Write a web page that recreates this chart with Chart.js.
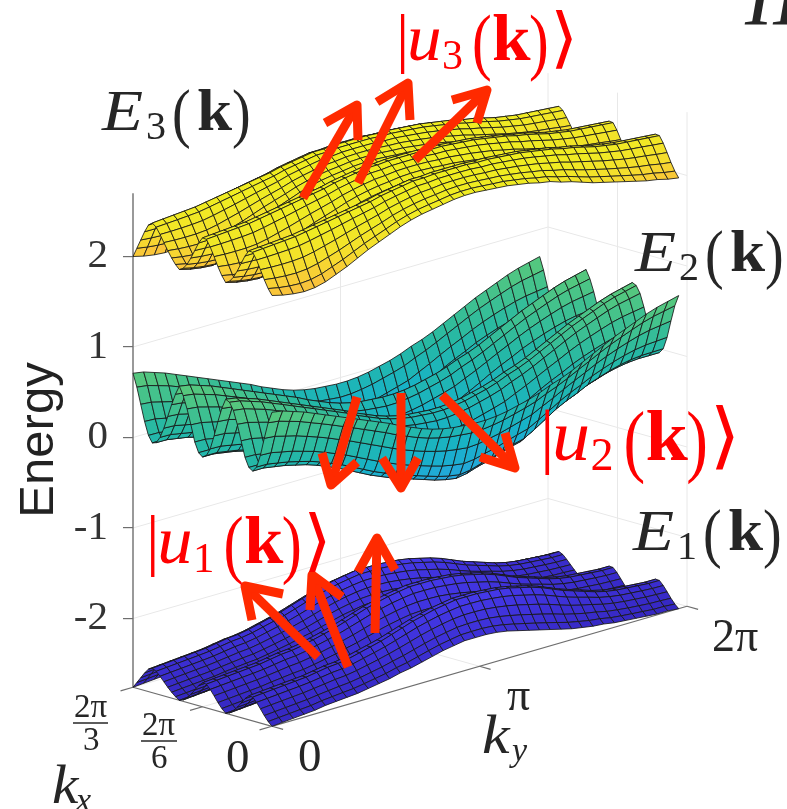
<!DOCTYPE html>
<html><head><meta charset="utf-8">
<style>html,body{margin:0;padding:0;background:#fff}canvas{display:block}</style>
<script src="https://cdn.jsdelivr.net/npm/chart.js@4"></script>
</head><body><canvas id="c" width="787" height="809"></canvas>
<script>
// ---- values (Energy at each ky grid column) ----
const energyTicks=[-2,-1,0,1,2];
const kxTickFractions=[0,1/2,1];   // of 2pi/3
const kyTickFractions=[0,1/2,1];   // of 2pi
const kxTickLabels=['0','2π/6','2π/3'];
const kyTickLabels=['0','π','2π'];
const e1Ridge=[-2.49,-2.48,-2.47,-2.46,-2.45,-2.44,-2.42,-2.40,-2.39,-2.37,-2.34,-2.31,-2.28,-2.24,-2.20,-2.16,-2.13,-2.10,-2.08,-2.06,-2.06,-2.06,-2.07,-2.08,-2.10,-2.13,-2.16,-2.20,-2.25,-2.30,-2.34,-2.38,-2.42,-2.45,-2.47,-2.48,-2.49,-2.50,-2.50];
const e1Valley=[-2.76,-2.75,-2.74,-2.73,-2.72,-2.70,-2.69,-2.68,-2.67,-2.65,-2.63,-2.61,-2.58,-2.56,-2.53,-2.50,-2.47,-2.45,-2.43,-2.43,-2.43,-2.44,-2.46,-2.49,-2.52,-2.55,-2.58,-2.61,-2.64,-2.66,-2.68,-2.69,-2.71,-2.72,-2.73,-2.74,-2.75,-2.75,-2.76];
const e2Ridge=[.71,.69,.65,.61,.56,.51,.46,.41,.36,.31,.26,.21,.15,.10,.05,.01,-.02,-.04,-.05,-.06,-.06,-.05,-.03,0,.03,.07,.12,.16,.21,.27,.33,.39,.45,.50,.55,.60,.64,.67,.70];
const e2Valley=[0,0,-.02,-.04,-.07,-.10,-.14,-.19,-.24,-.30,-.36,-.42,-.47,-.52,-.56,-.60,-.64,-.68,-.71,-.73,-.71,-.67,-.64,-.60,-.56,-.53,-.46,-.38,-.30,-.24,-.19,-.13,-.09,-.05,-.02,0,.01,.01,.01];
const e3Ridge=[2.43,2.44,2.45,2.46,2.47,2.49,2.51,2.53,2.55,2.57,2.59,2.61,2.64,2.66,2.68,2.70,2.70,2.71,2.71,2.71,2.71,2.70,2.70,2.69,2.68,2.67,2.65,2.63,2.61,2.58,2.56,2.53,2.50,2.48,2.46,2.45,2.44,2.43,2.42];
const e3Valley=[2.0,1.97,1.95,1.94,1.95,1.98,2.03,2.08,2.14,2.20,2.25,2.30,2.35,2.39,2.42,2.44,2.46,2.48,2.49,2.49,2.48,2.47,2.46,2.44,2.42,2.39,2.37,2.33,2.30,2.26,2.22,2.19,2.16,2.13,2.10,2.07,2.05,2.02,2.0];
// share of the ridge-valley height along kx, one entry per kx grid row
const ripple13=[0,.15,.35,.58,.8,.97,.98,.82,.6,.38,.19,.06,0,.15,.35,.58,.8,.97,.98,.82,.6,.38,.19,.06,0,.1,.24,.4,.58,.76,.92,1,.92,.72,.48,.24,0];
const ripple2=[1,.82,.56,.28,.08,0,.04,.18,.42,.66,.86,.97,1,.84,.62,.38,.16,.04,0,.05,.2,.45,.68,.87,1,.86,.68,.48,.28,.12,.02,0,.1,.3,.55,.8,1];
const colorStops=[[-2.8,[52,38,190]],[-2.1,[68,56,232]],[-.75,[39,165,224]],[-.3,[23,178,200]],[.1,[37,184,165]],[.7,[90,201,122]],[2.0,[250,196,58]],[2.2,[245,222,45]],[2.45,[240,235,35]],[2.7,[240,238,30]]];
// arrows: shaft [x0,E0,x1,E1] then two barbs [x,E] on the view axis
const arrowShafts=[[303,2.646,357,3.674],[358,2.812,408,3.917],[415,3.066,487,3.840],[357,.448,331,-.525],[401,.492,401,-.558],[442,.470,515,-.337],[318,-2.425,245,-1.641],[348,-2.536,312,-1.519],[375,-2.160,377,-1.110]];
const arrowBarbs=[[325,3.475,358,3.287],[377,3.707,410,3.508],[452,3.729,477,3.475],[322,-.171,357,-.271],[382,-.227,418,-.227],[480,-.215,505,.050],[252,-2.017,283,-1.729],[310,-1.906,342,-1.762],[358,-1.486,395,-1.464]];

// ---- oblique view of the 3-D box, mapped to the chart's x and Energy scales ----
const floorE=-2.76, topE=2.70;
const viewX=(u,v)=>272-139*u+415*v;
const viewY=(u,v,e)=>e-.431+.431*u+1.326*v;
const P=(u,v,e)=>({x:viewX(u,v),y:viewY(u,v,e)});
const Y=py=>(437.5-py)/90.5;

function color(e){
  let a=colorStops[0],b=colorStops[colorStops.length-1];
  if(e<=a[0])return `rgb(${a[1]})`; if(e>=b[0])return `rgb(${b[1]})`;
  for(let k=0;k<colorStops.length-1;k++){
    if(e>=colorStops[k][0]&&e<=colorStops[k+1][0]){a=colorStops[k];b=colorStops[k+1];break;}
  }
  const t=(e-a[0])/(b[0]-a[0]);
  return `rgb(${a[1].map((c,n)=>Math.round(c+(b[1][n]-c)*t))})`;
}
const line=(pts,c,w,extra)=>Object.assign({data:pts,showLine:true,borderColor:c,borderWidth:w,pointRadius:0,pointHoverRadius:0,fill:false,clip:false,borderCapStyle:'butt',borderJoinStyle:'miter'},extra||{});

const back=[]; // painted first
const gridCol='#e8e8e8', axisCol='#6e6e6e';
energyTicks.forEach(e=>{
  back.push(line([P(1,0,e),P(1,1,e),P(0,1,e)],gridCol,1));
});
[.5].forEach(f=>{
  back.push(line([P(1,f,floorE),P(1,f,topE)],gridCol,1));
  back.push(line([P(f,1,floorE),P(f,1,topE)],gridCol,1));
  back.push(line([P(1,f,floorE),P(0,f,floorE)],gridCol,1));
  back.push(line([P(f,0,floorE),P(f,1,floorE)],gridCol,1));
});
back.push(line([P(1,1,floorE),P(1,1,topE)],gridCol,1));
back.push(line([P(0,1,floorE),P(0,1,topE)],gridCol,1));
back.push(line([P(1,0,floorE),P(1,1,floorE),P(0,1,floorE)],gridCol,1));
back.push(line([P(1,0,floorE),P(1,0,topE)],axisCol,1.4));
back.push(line([P(1,0,floorE),P(0,0,floorE),P(0,1,floorE)],axisCol,1.2));
kxTickFractions.forEach(f=>back.push(line([P(f,0,floorE),P(f,-.03,floorE)],axisCol,1.2)));
kyTickFractions.forEach(f=>back.push(line([P(0,f,floorE),P(-.08,f,floorE)],axisCol,1.2)));

const mesh=[];
function surface(ridge,valley,ripple){
  const nv=ridge.length, nu=ripple.length;
  const E=(i,j)=>valley[j]+(ridge[j]-valley[j])*ripple[i];
  const p=(i,j)=>P(i/(nu-1),.98*j/(nv-1),E(i,j));
  for(let i=nu-2;i>=0;i--)for(let j=0;j<nv-1;j++){
    const m=(E(i,j)+E(i+1,j)+E(i,j+1)+E(i+1,j+1))/4;
    mesh.push(line([p(i,j),p(i+1,j),p(i+1,j+1),p(i,j+1),p(i,j)],'rgba(25,25,25,.85)',1,{fill:'shape',backgroundColor:color(m),borderJoinStyle:'round'}));
  }
}
surface(e1Ridge,e1Valley,ripple13);
surface(e2Ridge,e2Valley,ripple2);
surface(e3Ridge,e3Valley,ripple13);

const arrows=[];
const red='#ff2a00';
arrowShafts.forEach((s,k)=>{
  const b=arrowBarbs[k];
  arrows.push(line([{x:s[0],y:s[1]},{x:s[2],y:s[3]}],red,9));
  arrows.push(line([{x:b[0],y:b[1]},{x:s[2],y:s[3]},{x:b[2],y:b[3]}],red,9,{borderJoinStyle:'round'}));
});
// Chart.js paints dataset 0 last, so list them top-most first
const datasets=[...back,...mesh,...arrows].reverse();

// ---- text placements ----
const SERIF='"Liberation Serif"';
const ink='#262626', rd='#ff0000';
const I=s=>`italic ${s}px ${SERIF}`, R=s=>`${s}px ${SERIF}`, B=s=>`bold ${s}px ${SERIF}`;
function kLabel(x,base,n,c){return [
  ['E',I(56),x,base,c,1.2],[n,R(40),x+44,base+9,c,1],['(',R(66),x+70,base+5,c,.85],['k',B(60),x+95,base,c,1.05],[')',R(66),x+130,base+5,c,.85]];}
function uLabel(x,base,n,c,s){return [
  ['|',R(66*s),x,base,c,1],['u',I(66*s),x+11*s,base,c,1.05],[n,R(42*s),x+46*s,base+9*s,c,1],['(',R(74*s),x+76*s,base+6*s,c,.8],['k',B(66*s),x+96*s,base,c,1.05],[')',R(74*s),x+133*s,base+6*s,c,.8],['⟩',`${66*s}px "DejaVu Sans"`,x+154*s,base,c,1.1]];}
const texts=[
  ...kLabel(102,130,'3',ink),...kLabel(635,271,'2',ink),...kLabel(633,550,'1',ink),
  ...uLabel(396,60,'3',rd,1),...uLabel(540,460,'2',rd,1.1),...uLabel(146,563,'1',rd,1.02),
  ['II',I(84),745,25,ink,1],
  [kxTickLabels[0],R(47),226,772,ink,1],[kyTickLabels[0],R(47),298,771,ink,1],
  [kyTickLabels[1],R(46),507,710,ink,1],[kyTickLabels[2],R(46),712,651,ink,1],
  ['2π',R(33),142,735,ink,1],['6',R(33),151,768,ink,1],
  ['2π',R(33),74,717,ink,1],['3',R(33),83,750,ink,1],
  ['k',I(54),482,753,ink,1.15],['y',I(34),512,761,ink,1],
  ['k',I(54),52,803,ink,1.1],['x',I(34),76,811,ink,1]
];
const fractionBars=[[141,177,741],[73,108,723]];
const textPlugin={id:'texts',afterDraw(ch){
  const c=ch.ctx,xs=ch.scales.x,ys=ch.scales.y;
  const xp=x=>xs.getPixelForValue(133)+(x-133);
  c.save();c.textBaseline='alphabetic';c.textAlign='left';
  texts.forEach(([t,f,x,b,col,sx])=>{c.font=f;c.fillStyle=col;
    c.save();c.translate(xp(x),ys.getPixelForValue(Y(b)));c.scale(sx,1);c.fillText(t,0,0);c.restore();});
  c.strokeStyle=ink;c.lineWidth=1.4;
  fractionBars.forEach(([a,b,y])=>{c.beginPath();
    c.moveTo(a,ys.getPixelForValue(Y(y)));c.lineTo(b,ys.getPixelForValue(Y(y)));c.stroke();});
  // y-axis title, centred on the box's Energy span as in the figure
  c.save();c.translate(xp(53),ys.getPixelForValue(Y(440)));c.rotate(-Math.PI/2);
  c.textAlign='center';c.font='49px "Liberation Sans"';c.fillStyle='#222';c.fillText('Energy',0,0);c.restore();
  c.restore();
}};

new Chart(document.getElementById('c'),{
  type:'scatter',
  data:{datasets},
  plugins:[textPlugin],
  options:{
    responsive:false,animation:false,events:[],
    layout:{padding:0},
    plugins:{legend:{display:false},tooltip:{enabled:false}},
    scales:{
      x:{type:'linear',display:false,min:133,max:787},
      y:{type:'linear',min:Y(809),max:Y(0),
        afterBuildTicks:s=>{s.ticks=energyTicks.map(v=>({value:v}));},
        afterFit:s=>{s.width=133;s.paddingTop=0;s.paddingBottom=0;},
        border:{display:false},
        grid:{drawOnChartArea:false,drawTicks:true,tickLength:10,color:axisCol,lineWidth:1.2},
        ticks:{autoSkip:false,padding:15,color:'#333',font:{family:'Liberation Serif',size:41},callback:v=>String(v)}
      }
    }
  }
});
</script></body></html>
